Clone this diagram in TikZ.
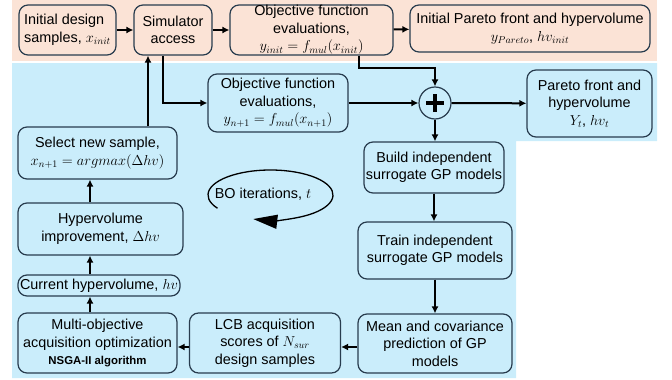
\documentclass[tikz,border=0pt]{standalone}
\usepackage{amsmath}
\usepackage{xcolor}
\usepackage{fontspec}
\setmainfont{Liberation Sans}
\usetikzlibrary{calc,arrows.meta}
\definecolor{peach}{RGB}{251,227,214}
\definecolor{skyblue}{RGB}{202,237,251}
\definecolor{edge}{RGB}{40,60,78}

\begin{document}
\begin{tikzpicture}[x=1pt, y=-1pt,
        font=\fontsize{14.4}{17.5}\selectfont,
        box/.style={draw=edge, line width=1.2pt, rounded corners=9pt, align=center, inner sep=0pt},
        arr/.style={-{Latex[length=7pt,width=7pt]}, line width=2pt}]
        \useasboundingbox (0,0) rectangle (672,380);
        \fill[peach] (12,0) rectangle (657,61);
        \fill[skyblue] (12,63) -- (657,63) -- (657,141) -- (516,141) -- (516,378) -- (12,378) -- cycle;

        \node[box, minimum width=97, minimum height=50, align=left] (init) at (67.5,30) {Initial design\\samples, $x_{init}$};
        \node[box, minimum width=78, minimum height=50] (sim) at (173,30) {Simulator\\access};
        \node[box, minimum width=163, minimum height=50] (objinit) at (311.5,30) {Objective function\\evaluations,\\$y_{init}=f_{mul}(x_{init})$};
        \node[box, minimum width=240, minimum height=47] (pinit) at (530,28.5) {Initial Pareto front and hypervolume\\$y_{Pareto}$, $hv_{init}$};

        \node[box, minimum width=140, minimum height=58] (obj) at (278,103) {Objective function\\evaluations,\\$y_{n+1}=f_{mul}(x_{n+1})$};
        \node[circle, draw=edge, line width=1.2pt, minimum size=32, inner sep=0pt] (plus) at (435,103) {};
        \draw[line width=4.5pt] ([xshift=-9pt]plus.center) -- ([xshift=9pt]plus.center);
        \draw[line width=4.5pt] ([yshift=-9pt]plus.center) -- ([yshift=9pt]plus.center);
        \node[box, minimum width=125, minimum height=67] (pf) at (589.5,103.5) {Pareto front and\\hypervolume\\$Y_t$, $hv_t$};
        \node[box, minimum width=140, minimum height=51] (build) at (434,167.5) {Build independent\\surrogate GP models};
        \node[box, minimum width=154, minimum height=57] (train) at (435,250.5) {Train independent\\surrogate GP models};
        \node[box, minimum width=154, minimum height=59] (mean) at (435,343.5) {Mean and covariance\\prediction of GP\\models};
        \node[box, minimum width=151, minimum height=60] (lcb) at (265,343) {LCB acquisition\\scores of $N_{sur}$\\design samples};
        \node[box, minimum width=159, minimum height=60] (moo) at (97.5,343) {Multi-objective\\acquisition optimization\\{\fontsize{11.4}{13}\selectfont\bfseries NSGA-II algorithm}};
        \node[box, minimum width=162, minimum height=21] (curhv) at (99,285.5) {Current hypervolume, $hv$};
        \node[box, minimum width=165, minimum height=52] (hvi) at (100.5,229) {Hypervolume\\improvement, $\Delta hv$};
        \node[box, minimum width=159, minimum height=52] (select) at (97.5,153) {Select new sample,\\$x_{n+1}=argmax(\Delta hv)$};

        \node (bo) at (263,194) {BO iterations, $t$};
        \draw[line width=1.3pt, -{Triangle[length=24pt,width=14pt]}] (270.5,195) ++(148:62.5 and 25) arc[start angle=148, end angle=466, x radius=62.5, y radius=25];

        \coordinate (upx) at (148,0);
        \coordinate (dnx) at (163,0);
        \coordinate (lftx) at (90,0);
        \coordinate (outx) at (359,0);
        \coordinate (rowy) at (0,347);

        \draw[arr] (init) -- (sim);
        \draw[arr] (sim) -- (objinit);
        \draw[arr] (objinit) -- (pinit);
        \draw[arr] (objinit.south -| outx) -- ++(0,12) -| (plus.north);
        \draw[arr] (select.north -| upx) -- (sim.south -| upx);
        \draw[arr] (sim.south -| dnx) |- (obj.west);
        \draw[arr] (obj) -- (plus);
        \draw[arr] (plus) -- (pf);
        \draw[arr] (plus) -- (plus |- build.north);
        \draw[arr] (build.south) -- (build.south |- train.north);
        \draw[arr] (train) -- (mean);
        \draw[arr] (mean.west |- rowy) -- (lcb.east |- rowy);
        \draw[arr] (lcb.west |- rowy) -- (moo.east |- rowy);
        \draw[arr] (moo.north -| lftx) -- (curhv.south -| lftx);
        \draw[arr] (curhv.north -| lftx) -- (hvi.south -| lftx);
        \draw[arr] (hvi.north -| lftx) -- (select.south -| lftx);
    \end{tikzpicture}
\end{document}
